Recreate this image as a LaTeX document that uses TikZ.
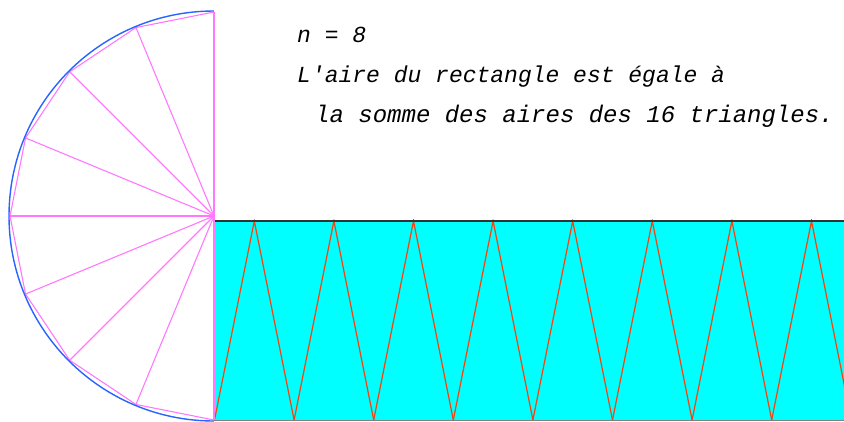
\documentclass[tikz,border=0pt]{standalone}
\usepackage{fontspec}
\setmonofont{Liberation Mono}
\usetikzlibrary{calc}
\definecolor{spoke}{RGB}{255,120,255}
\definecolor{rim}{RGB}{40,100,255}
\definecolor{zig}{RGB}{240,70,20}
\definecolor{strip}{RGB}{0,255,255}
\tikzset{
  spokeline/.style={draw=spoke,line width=1.1pt},
  rimline/.style={draw=rim,line width=1.4pt},
  zigline/.style={draw=zig,line width=1.2pt,line join=miter},
  note/.style={anchor=base west,inner sep=0pt,font=\fontsize{23}{40}\selectfont\ttfamily\itshape},
}
\begin{document}
\begin{tikzpicture}[x=1pt,y=-1pt]
\useasboundingbox (0,0) rectangle (844,421);
\coordinate (O) at (214,216);
\foreach \i in {0,...,8}
  \coordinate (P\i) at ($(O)+({90+22.5*\i}:204)$);

% rectangle with the triangles
\fill[strip] (214,221) rectangle (844,420);
\begin{scope}
  \clip (214,219) rectangle (844,421);
  \foreach \k in {0,...,7}
    \draw[zigline] ({214.5+79.6*\k},420) -- ({254.3+79.6*\k},221) -- ({294.1+79.6*\k},420);
\end{scope}
\draw[line width=1.4pt,black!80] (214,221) -- (844,221);
\draw[gray,line width=0.6pt] (214,420.6) -- (844,420.6);

% half disc: spokes, chords, arc
\draw[spokeline] (P0) -- (P8);
\foreach \i in {1,...,7}
  \draw[spokeline] (O) -- (P\i);
\draw[spokeline] (P0) \foreach \i in {1,...,8} { -- (P\i) };
\draw[rimline] ($(O)+(90:205)$) arc[start angle=90,end angle=270,radius=205];

% caption
\node[note] (n) at (297,42) {n = 8};
\node[note] (l1) at (297,82) {L'aire du rectangle est égale à};
\node[note,font=\fontsize{24}{40}\selectfont\ttfamily\itshape] (l2) at (315,122) {la somme des aires des 16 triangles.};
\end{tikzpicture}
\end{document}
